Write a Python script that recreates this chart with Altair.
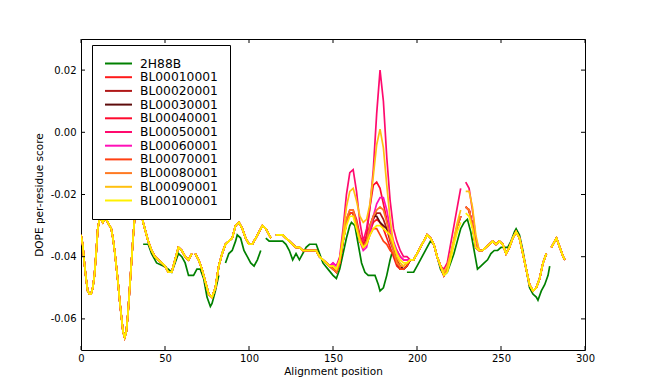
import altair as alt
import pandas as pd

SERIES = ["2H88B", "BL00010001", "BL00020001", "BL00030001", "BL00040001", "BL00050001",
          "BL00060001", "BL00070001", "BL00080001", "BL00090001", "BL00100001"]
COLORS = ["#008000", "#FF1A1A", "#B01818", "#5E0C0C", "#FF0A2E", "#FF0A6E",
          "#FF10B8", "#FF4012", "#FF7A22", "#FFC010", "#FFF000"]

X_TICKS = [0, 50, 100, 150, 200, 250, 300]
Y_TICKS = [-0.06, -0.04, -0.02, 0.0, 0.02]

# template 2H88B (None = gap)
T_X = [37, 40, 42, 45, 49, 52, 54, 56, 58, 60, 62, 64, 67, 69, 71, 73, 75, 77, 78, 80, 82,
       84,
       86, 88, 90, 92, 93, 95, 97, 99, 101, 103, 105, 107,
       108,
       110, 112, 115, 118, 120, 122, 124, 126, 128, 130, 132, 134, 136, 140, 142, 144, 147, 150,
       152, 154, 156, 158, 160, 161, 163, 165, 167, 169, 171, 173, 175, 177, 178, 180, 182, 184, 185,
       190,
       194, 196, 198, 200, 202, 204, 206, 208, 210, 212, 214, 216, 218, 220, 222, 224, 226, 228,
       230, 232, 234, 236, 238, 240, 242, 244, 246, 248, 250, 252, 254, 256, 258,
       259, 261, 263, 265, 267, 269, 271, 272, 274, 276, 278, 279]
T_Y = [-0.036, -0.036, -0.039, -0.042, -0.043, -0.044, -0.045, -0.042, -0.039, -0.040, -0.042,
       -0.046, -0.046, -0.044, -0.044, -0.047, -0.053, -0.056, -0.055, -0.051, -0.046,
       None,
       -0.042, -0.039, -0.038, -0.035, -0.033, -0.034, -0.038, -0.040, -0.042, -0.043, -0.041, -0.038,
       None,
       -0.034, -0.035, -0.035, -0.035, -0.035, -0.036, -0.038, -0.041, -0.039, -0.041, -0.039,
       -0.037, -0.036, -0.036, -0.039, -0.042, -0.044, -0.046, -0.047, -0.044, -0.039, -0.034,
       -0.030, -0.029, -0.030, -0.036, -0.042, -0.045, -0.046, -0.046, -0.046, -0.049, -0.051,
       -0.050, -0.046, -0.041, -0.039,
       None,
       -0.045, -0.045, -0.045, -0.043, -0.041, -0.039, -0.037, -0.035, -0.036, -0.040, -0.044,
       -0.046, -0.045, -0.042, -0.039, -0.035, -0.031, -0.029, -0.028, -0.032, -0.038, -0.044,
       -0.043, -0.042, -0.041, -0.039, -0.038, -0.038, -0.037, -0.037, -0.037, -0.035, -0.032,
       -0.031, -0.033, -0.038, -0.044, -0.050, -0.052, -0.053, -0.054, -0.051, -0.049, -0.046, -0.043]

# models: shared stretches
A_X = list(range(0, 39)) + list(range(40, 67, 2)) + [67] + list(range(68, 113, 2)) + [113, 114] \
      + list(range(116, 149, 2))
A_Y = [-0.033, -0.036, -0.042, -0.047, -0.051, -0.052, -0.052, -0.050, -0.046, -0.039, -0.031,
       -0.028, -0.028, -0.029, -0.028, -0.028, -0.029, -0.030, -0.031, -0.034, -0.038, -0.043,
       -0.048, -0.054, -0.059, -0.064, -0.066, -0.064, -0.058, -0.050, -0.042, -0.034, -0.027,
       -0.023, -0.021, -0.023, -0.026, -0.029, -0.031,
       -0.035, -0.038, -0.040, -0.041, -0.042, -0.043, -0.045, -0.045, -0.041, -0.037, -0.038,
       -0.040, -0.041, -0.039,
       None,
       -0.039, -0.041, -0.044, -0.048, -0.052, -0.053, -0.050, -0.043, -0.039, -0.036, -0.035,
       -0.034, -0.030, -0.029, -0.031, -0.034, -0.036, -0.036, -0.034, -0.032, -0.030, -0.031,
       -0.033, -0.034,
       None,
       -0.033, -0.033, -0.033, -0.034, -0.035, -0.036, -0.037, -0.037, -0.038, -0.038, -0.038,
       -0.038, -0.038, -0.040, -0.041, -0.042, -0.043]
W1_X = list(range(150, 195, 2))
B_X = [196, 198, 200, 202, 204, 206, 208, 210, 212, 214]
B_Y = [-0.041, -0.041, -0.039, -0.037, -0.035, -0.033, -0.034, -0.036, -0.040, -0.043]
W2_X = [216, 218, 220, 222, 224, 226, 227, 229, 231, 233, 235]
C_X = list(range(237, 278, 2)) + [278, 280, 282, 283, 285, 287, 288]
C_Y = [-0.038, -0.038, -0.037, -0.036, -0.035, -0.036, -0.035, -0.036, -0.039, -0.037, -0.034,
       -0.032, -0.034, -0.039, -0.044, -0.049, -0.051, -0.050, -0.047, -0.042, -0.039,
       None, -0.037, -0.035, -0.034, -0.037, -0.040, -0.041]

# models: divergent stretch 150-194
W1 = {
    "BL00010001": [-0.044, -0.045, -0.042, -0.035, -0.029, -0.026, -0.026, -0.030, -0.035, -0.037, -0.036, -0.032,
                   -0.029, -0.028, -0.029, -0.031, -0.034, -0.037, -0.040, -0.043, -0.044, -0.044, -0.043],
    "BL00020001": [-0.044, -0.045, -0.042, -0.035, -0.029, -0.026, -0.026, -0.030, -0.035, -0.037, -0.035, -0.031,
                   -0.028, -0.026, -0.026, -0.028, -0.031, -0.035, -0.038, -0.042, -0.044, -0.044, -0.043],
    "BL00030001": [-0.044, -0.045, -0.042, -0.035, -0.029, -0.026, -0.026, -0.030, -0.034, -0.036, -0.034, -0.030,
                   -0.027, -0.027, -0.029, -0.030, -0.031, -0.033, -0.037, -0.041, -0.043, -0.044, -0.043],
    "BL00040001": [-0.043, -0.044, -0.041, -0.034, -0.028, -0.025, -0.025, -0.028, -0.033, -0.036, -0.033, -0.024,
                   -0.017, -0.016, -0.018, -0.023, -0.028, -0.033, -0.036, -0.038, -0.040, -0.041, -0.041],
    "BL00050001": [-0.042, -0.043, -0.040, -0.031, -0.020, -0.013, -0.012, -0.019, -0.029, -0.035, -0.031, -0.024,
                   -0.012, 0.006, 0.020, 0.010, -0.008, -0.022, -0.031, -0.035, -0.038, -0.040, -0.040],
    "BL00060001": [-0.042, -0.043, -0.041, -0.034, -0.028, -0.026, -0.026, -0.030, -0.035, -0.038, -0.037, -0.032,
                   -0.027, -0.023, -0.021, -0.021, -0.025, -0.031, -0.035, -0.038, -0.040, -0.041, -0.041],
    "BL00070001": [-0.044, -0.045, -0.042, -0.035, -0.029, -0.026, -0.026, -0.030, -0.035, -0.037, -0.036, -0.033,
                   -0.031, -0.031, -0.033, -0.035, -0.036, -0.038, -0.039, -0.041, -0.044, -0.044, -0.043],
    "BL00080001": [-0.044, -0.045, -0.042, -0.034, -0.028, -0.025, -0.025, -0.029, -0.034, -0.037, -0.035, -0.030,
                   -0.027, -0.025, -0.024, -0.025, -0.029, -0.034, -0.038, -0.042, -0.043, -0.043, -0.042],
    "BL00090001": [-0.043, -0.044, -0.041, -0.033, -0.024, -0.019, -0.018, -0.022, -0.027, -0.029, -0.028, -0.023,
                   -0.014, -0.004, 0.001, -0.005, -0.017, -0.028, -0.036, -0.040, -0.042, -0.043, -0.042],
    "BL00100001": [-0.043, -0.044, -0.041, -0.035, -0.030, -0.027, -0.027, -0.031, -0.035, -0.037, -0.036, -0.033,
                   -0.031, -0.030, -0.030, -0.031, -0.032, -0.033, -0.036, -0.039, -0.041, -0.042, -0.042],
}
# models: divergent stretch 216-235
W2_PINK = [-0.044, -0.042, -0.036, -0.030, -0.024, -0.018, None, -0.016, -0.018, -0.025, -0.034]
W2_AMBER = [-0.045, -0.043, -0.039, -0.034, -0.029, -0.025, None, -0.019, -0.019, -0.024, -0.033]
W2_MID = [-0.046, -0.044, -0.040, -0.035, -0.030, -0.027, None, -0.024, -0.025, -0.030, -0.037]
W2_YELLOW = [-0.046, -0.045, -0.041, -0.036, -0.032, -0.029, None, -0.026, -0.027, -0.031, -0.037]
W2 = {s: W2_MID for s in SERIES[1:]}
W2["BL00050001"] = W2_PINK
W2["BL00090001"] = W2_AMBER
W2["BL00100001"] = W2_YELLOW

rows = []


def add(name, xs, ys):
    assert len(xs) == len(ys), (name, len(xs), len(ys))
    seg = 0
    for x, y in zip(xs, ys):
        if y is None:
            seg += 1
            continue
        rows.append({"series": name, "seg": f"{name}_{seg}", "x": x, "y": y})


add("2H88B", T_X, T_Y)
for s in SERIES[1:]:
    add(s, A_X + W1_X + B_X + W2_X + C_X, A_Y + W1[s] + B_Y + W2[s] + C_Y)
df = pd.DataFrame(rows)

W, H = 504, 311
FONT = "DejaVu Sans"
xsc = alt.Scale(domain=[0, 300], nice=False, zero=False)
ysc = alt.Scale(domain=[-0.07, 0.03], nice=False, zero=False)

xaxis = alt.Axis(values=X_TICKS, title="Alignment position", domain=False, ticks=False, grid=False,
                 labelFont=FONT, labelFontSize=10, labelColor="black", labelPadding=3,
                 titleFont=FONT, titleFontSize=10.5, titleFontWeight="normal", titleColor="black",
                 titlePadding=3, labelFlush=False)
yaxis = alt.Axis(values=Y_TICKS, title="DOPE per-residue score", domain=False, ticks=False, grid=False,
                 labelFont=FONT, labelFontSize=10, labelColor="black", labelPadding=5,
                 labelExpr="replace(format(datum.value, '.2f'), '\u2212', '-')",
                 titleFont=FONT, titleFontSize=10.5, titleFontWeight="normal", titleColor="black",
                 titlePadding=6)

color = alt.Color("series:N", scale=alt.Scale(domain=SERIES, range=COLORS), title=None,
                  legend=alt.Legend(orient="none", legendX=11, legendY=6,
                                    symbolType="M-2.45,0H2.45", symbolStrokeWidth=2, symbolSize=121,
                                    symbolOffset=8, labelOffset=15,
                                    labelFont=FONT, labelFontSize=12.3, labelColor="black",
                                    fillColor="white", strokeColor="black", padding=12,
                                    rowPadding=0.7, labelLimit=300))

base = alt.Chart(df).mark_line(strokeWidth=1.7, clip=True).encode(
    x=alt.X("x:Q", scale=xsc, axis=xaxis),
    y=alt.Y("y:Q", scale=ysc, axis=yaxis),
    color=color,
    detail="seg:N",
)
layers = [base.transform_filter(alt.datum.series == s) for s in SERIES]

xt = pd.DataFrame({"x": X_TICKS})
yt = pd.DataFrame({"y": Y_TICKS})
tb = alt.Chart(xt).mark_rule(color="black", strokeWidth=1).encode(
    x=alt.X("x:Q", scale=xsc, axis=xaxis), y=alt.value(H), y2=alt.value(H - 4))
tt = alt.Chart(xt).mark_rule(color="black", strokeWidth=1).encode(
    x=alt.X("x:Q", scale=xsc, axis=xaxis), y=alt.value(0), y2=alt.value(4))
tl = alt.Chart(yt).mark_rule(color="black", strokeWidth=1).encode(
    y=alt.Y("y:Q", scale=ysc, axis=yaxis), x=alt.value(0), x2=alt.value(4))
tr = alt.Chart(yt).mark_rule(color="black", strokeWidth=1).encode(
    y=alt.Y("y:Q", scale=ysc, axis=yaxis), x=alt.value(W), x2=alt.value(W - 4))

chart = alt.layer(*layers, tb, tt, tl, tr).properties(
    width=W, height=H,
    autosize=alt.AutoSizeParams(type="none"),
    padding={"left": 73, "top": 31, "right": 57, "bottom": 32},
    background="white",
).configure_view(stroke="black", strokeWidth=1)

chart.save("out.html", embed_options={"renderer": "svg", "actions": False})
